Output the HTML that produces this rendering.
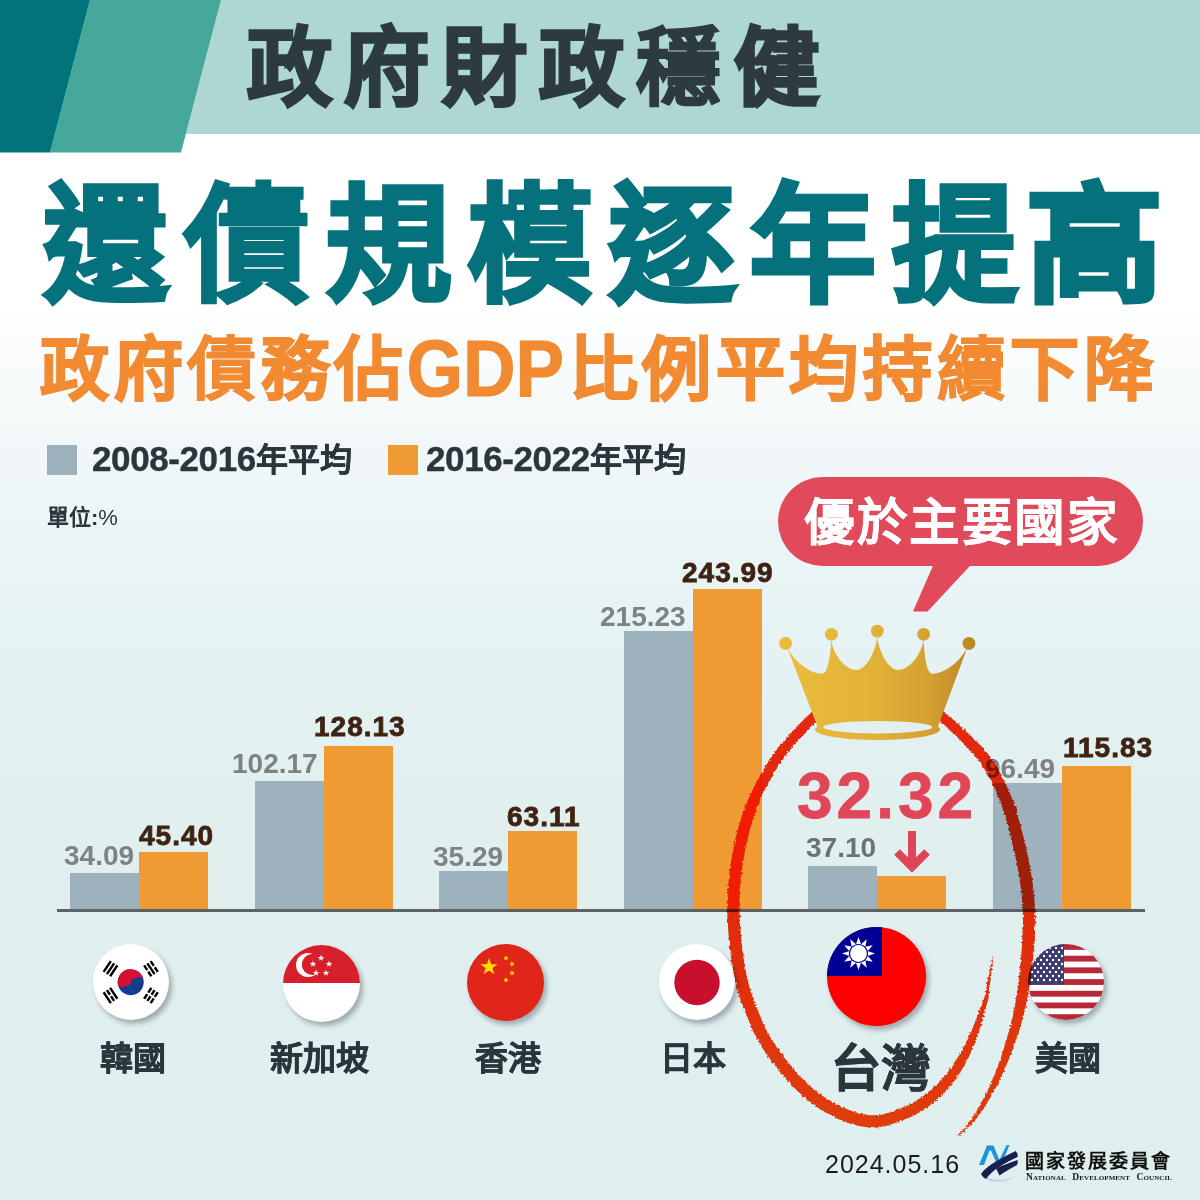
<!DOCTYPE html>
<html lang="zh-TW">
<head>
<meta charset="utf-8">
<title>政府財政穩健</title>
<style>
*{margin:0;padding:0;box-sizing:border-box}
html,body{width:1200px;height:1200px;overflow:hidden}
body{position:relative;font-family:"Liberation Sans",sans-serif;
background:linear-gradient(180deg,#ffffff 0px,#ffffff 300px,#f1f7f8 450px,#e7f3f4 600px,#e1efef 800px,#dfeeee 1200px);}
.abs{position:absolute;white-space:nowrap;line-height:1}
#t1{left:247px;top:26px;font-size:85px;font-weight:700;color:#2d3a41;letter-spacing:12.3px;-webkit-text-stroke:3px #2d3a41;transform-origin:0 0}
#t2{left:43px;top:183px;font-size:128px;font-weight:700;color:#05717c;letter-spacing:16.3px;-webkit-text-stroke:4.6px #05717c;transform:scaleX(.98);transform-origin:0 0}
#t3{left:40px;top:336px;font-size:69px;font-weight:700;color:#f28a32;letter-spacing:4.6px;-webkit-text-stroke:1.8px #f28a32}
#t3 .gdp{display:inline-block;font-size:75px;line-height:0;letter-spacing:0;transform:scale(.97,1.07);transform-origin:50% 0;margin:0 2px 0 -4px;-webkit-text-stroke:1px #f28a32}
.leg{top:441px;font-size:35px;font-weight:700;color:#2b363c;-webkit-text-stroke:.4px #2b363c;letter-spacing:-.4px}
.leg span{font-size:32px;letter-spacing:0}
.sq{position:absolute;width:30px;height:30px;top:445px}
#unit{left:47px;top:507px;font-size:22px;font-weight:700;color:#2b363c}
.bar{position:absolute;width:69px}
.g{background:#9eb2be}
.o{background:#f09a33}
.lg{font-size:28px;color:#7c8285;font-weight:700}
.lo{font-size:28px;color:#3e2313;font-weight:700;-webkit-text-stroke:.8px #3e2313;letter-spacing:1px}
.cn{font-size:33px;font-weight:700;color:#2b363c;top:1042px;-webkit-text-stroke:.5px #2b363c}
.flag{position:absolute;border-radius:50%;overflow:hidden;box-shadow:3px 4px 5px rgba(40,50,60,.35)}
</style>
</head>
<body>
<!-- header band -->
<svg class="abs" style="left:0;top:0" width="1200" height="160" viewBox="0 0 1200 160">
  <polygon points="221,0 1200,0 1200,134 186,134" fill="#aed6d3"/>
  <polygon points="90,0 221,0 181,152.5 50,152.5" fill="#46a89a"/>
  <polygon points="0,0 90,0 50,152.5 0,152.5" fill="#00737b"/>
</svg>
<div class="abs" id="t1">政府財政<span style="-webkit-text-stroke-width:1.6px">穩</span>健</div>
<div class="abs" id="t2"><span style="-webkit-text-stroke-width:3.4px">還</span><span style="-webkit-text-stroke-width:2.6px">債</span><span style="-webkit-text-stroke-width:3.6px">規</span><span style="-webkit-text-stroke-width:3.4px">模</span>逐年<span style="letter-spacing:9.5px;-webkit-text-stroke-width:3.6px">提</span><span style="display:inline-block;transform:scaleX(1.09);transform-origin:0 0">高</span></div>
<div class="abs" id="t3">政府<span style="-webkit-text-stroke-width:.6px">債</span>務佔<span class="gdp">GDP</span>比例平均持<span style="-webkit-text-stroke-width:.6px">續</span>下降</div>

<!-- legend -->
<div class="sq" style="left:47px;background:#9eb2be"></div>
<div class="abs leg" style="left:92px">2008-2016<span>年平均</span></div>
<div class="sq" style="left:388px;background:#f09a33"></div>
<div class="abs leg" style="left:426px">2016-2022<span>年平均</span></div>
<div class="abs" id="unit">單位:<span style="font-weight:400">%</span></div>

<!-- bubble -->
<svg class="abs" style="left:0;top:0" width="1200" height="1200" viewBox="0 0 1200 1200">
  <rect x="778" y="477" width="365" height="89" rx="44.5" fill="#e04a5b"/>
  <polygon points="935.5,560 975.5,560 927.5,611.5 913,611.5" fill="#e04a5b"/>
</svg>
<div class="abs" id="bub" style="left:804px;top:498px;font-size:50.5px;font-weight:700;color:#fff;letter-spacing:2.5px;-webkit-text-stroke:.4px #fff">優於主要國家</div>

<!-- bars -->
<div class="bar g" style="left:70px;top:873px;height:37px"></div>
<div class="bar o" style="left:139px;top:852px;height:58px"></div>
<div class="bar g" style="left:255px;top:781px;height:129px"></div>
<div class="bar o" style="left:324px;top:746px;height:164px"></div>
<div class="bar g" style="left:439px;top:871px;height:39px"></div>
<div class="bar o" style="left:508px;top:831px;height:79px"></div>
<div class="bar g" style="left:624px;top:631px;height:279px"></div>
<div class="bar o" style="left:693px;top:589px;height:321px"></div>
<div class="bar g" style="left:808px;top:866px;height:44px"></div>
<div class="bar o" style="left:877px;top:876px;height:34px"></div>
<div class="bar g" style="left:993px;top:783px;height:127px"></div>
<div class="bar o" style="left:1062px;top:766px;height:144px"></div>
<div class="abs" style="left:57px;top:909px;width:1088px;height:3px;background:#5b6367"></div>

<!-- labels -->
<div class="abs lg" style="left:64px;top:842px">34.09</div>
<div class="abs lo" style="left:139px;top:822px">45.40</div>
<div class="abs lg" style="left:232px;top:750px">102.17</div>
<div class="abs lo" style="left:314px;top:713px">128.13</div>
<div class="abs lg" style="left:433px;top:843px">35.29</div>
<div class="abs lo" style="left:507px;top:803px">63.11</div>
<div class="abs lg" style="left:600px;top:603px">215.23</div>
<div class="abs lo" style="left:682px;top:559px">243.99</div>
<div class="abs lg" style="left:806px;top:834px;color:#6c7274">37.10</div>
<div class="abs lg" style="left:985px;top:755px">96.49</div>
<div class="abs lo" style="left:1063px;top:734px">115.83</div>
<div class="abs" id="big" style="left:797px;top:764px;font-size:64px;font-weight:700;color:#e14658;letter-spacing:4px;-webkit-text-stroke:.8px #e14658">32.32</div>

<!-- arrow -->
<svg class="abs" style="left:0;top:0" width="1200" height="1200" viewBox="0 0 1200 1200">
  <rect x="908" y="831" width="8" height="30" fill="#e04456"/>
  <polyline points="897,852 912,867 927,852" fill="none" stroke="#e04456" stroke-width="8" stroke-linecap="butt" stroke-linejoin="miter"/>
</svg>

<!-- flags -->
<div class="flag" style="left:93px;top:944px;width:76px;height:76px;background:#fff">
  <svg width="76" height="76" viewBox="0 0 76 76">
    <g transform="translate(37.7,38.2) rotate(-14)">
      <circle r="13" fill="#0f3e8f"/>
      <path d="M-13,0 A13,13 0 0 1 13,0 A6.5,3 0 0 0 0,0 A6.5,3 0 0 1 -13,0Z" fill="#d70f35"/>
    </g>
    <g fill="#000">
      <g transform="translate(17.5,24.7) rotate(-56.3)"><rect x="-6.5" y="-5.1" width="13" height="2.4"/><rect x="-6.5" y="-1.2" width="13" height="2.4"/><rect x="-6.5" y="2.7" width="13" height="2.4"/></g>
      <g transform="translate(58,24.7) rotate(56.3)"><rect x="-6.5" y="-5.1" width="5.6" height="2.4"/><rect x="0.9" y="-5.1" width="5.6" height="2.4"/><rect x="-6.5" y="-1.2" width="13" height="2.4"/><rect x="-6.5" y="2.7" width="5.6" height="2.4"/><rect x="0.9" y="2.7" width="5.6" height="2.4"/></g>
      <g transform="translate(17.5,51.5) rotate(56.3)"><rect x="-6.5" y="-5.1" width="13" height="2.4"/><rect x="-6.5" y="-1.2" width="5.6" height="2.4"/><rect x="0.9" y="-1.2" width="5.6" height="2.4"/><rect x="-6.5" y="2.7" width="13" height="2.4"/></g>
      <g transform="translate(58,51.5) rotate(-56.3)"><rect x="-6.5" y="-5.1" width="5.6" height="2.4"/><rect x="0.9" y="-5.1" width="5.6" height="2.4"/><rect x="-6.5" y="-1.2" width="5.6" height="2.4"/><rect x="0.9" y="-1.2" width="5.6" height="2.4"/><rect x="-6.5" y="2.7" width="5.6" height="2.4"/><rect x="0.9" y="2.7" width="5.6" height="2.4"/></g>
    </g>
  </svg>
</div>
<div class="flag" style="left:283px;top:945px;width:77px;height:77px;background:#fff">
  <svg width="77" height="77" viewBox="0 0 77 77">
    <rect width="77" height="38" fill="#d71f2c"/>
    <circle cx="25" cy="20" r="12" fill="#fff"/>
    <circle cx="29.5" cy="19.5" r="10.6" fill="#d71f2c"/>
    <g fill="#fff">
      <polygon id="sst" points="0,-2.6 0.6,-0.8 2.5,-0.8 1,0.3 1.5,2.1 0,1 -1.5,2.1 -1,0.3 -2.5,-0.8 -0.6,-0.8" transform="translate(38,13) scale(1.35)"/>
      <use href="#sst" x="8" y="6"/>
      <use href="#sst" x="5" y="15"/>
      <use href="#sst" x="-5" y="15"/>
      <use href="#sst" x="-8" y="6"/>
    </g>
  </svg>
</div>
<div class="flag" style="left:467px;top:944px;width:77px;height:77px;background:#e0261a">
  <svg width="77" height="77" viewBox="0 0 77 77">
    <g fill="#ffde00">
      <polygon points="0,-9 2.1,-2.8 8.6,-2.8 3.4,1.1 5.3,7.3 0,3.5 -5.3,7.3 -3.4,1.1 -8.6,-2.8 -2.1,-2.8" transform="translate(22,23)"/>
      <polygon id="hks" points="0,-3 0.7,-0.9 2.9,-0.9 1.1,0.4 1.8,2.4 0,1.2 -1.8,2.4 -1.1,0.4 -2.9,-0.9 -0.7,-0.9" transform="translate(39,14) rotate(20)"/>
      <polygon points="0,-3 0.7,-0.9 2.9,-0.9 1.1,0.4 1.8,2.4 0,1.2 -1.8,2.4 -1.1,0.4 -2.9,-0.9 -0.7,-0.9" transform="translate(45,20) rotate(45)"/>
      <polygon points="0,-3 0.7,-0.9 2.9,-0.9 1.1,0.4 1.8,2.4 0,1.2 -1.8,2.4 -1.1,0.4 -2.9,-0.9 -0.7,-0.9" transform="translate(45,29) rotate(0)"/>
      <polygon points="0,-3 0.7,-0.9 2.9,-0.9 1.1,0.4 1.8,2.4 0,1.2 -1.8,2.4 -1.1,0.4 -2.9,-0.9 -0.7,-0.9" transform="translate(39,36) rotate(20)"/>
    </g>
  </svg>
</div>
<div class="flag" style="left:659px;top:944px;width:76px;height:76px;background:#fff">
  <svg width="76" height="76" viewBox="0 0 76 76"><circle cx="38" cy="38.5" r="22.7" fill="#c8102e"/></svg>
</div>
<div class="flag" style="left:827px;top:927px;width:99px;height:99px;background:#fe0000">
  <svg width="99" height="99" viewBox="0 0 99 99">
    <rect width="55" height="49" fill="#000095"/>
    <g transform="translate(31.5,26.5)" fill="#fff">
      <g id="rays">
        <polygon points="0,-16.5 2.6,-9 -2.6,-9"/>
        <polygon points="0,-16.5 2.6,-9 -2.6,-9" transform="rotate(30)"/>
        <polygon points="0,-16.5 2.6,-9 -2.6,-9" transform="rotate(60)"/>
        <polygon points="0,-16.5 2.6,-9 -2.6,-9" transform="rotate(90)"/>
        <polygon points="0,-16.5 2.6,-9 -2.6,-9" transform="rotate(120)"/>
        <polygon points="0,-16.5 2.6,-9 -2.6,-9" transform="rotate(150)"/>
      </g>
      <use href="#rays" transform="rotate(180)"/>
      <circle r="9.6" fill="#000095"/>
      <circle r="8.4" fill="#fff"/>
    </g>
  </svg>
</div>
<div class="flag" style="left:1028px;top:944px;width:76px;height:76px;background:#fff">
  <svg width="76" height="76" viewBox="0 0 76 76">
    <g fill="#b8283a"><rect y="0.00" width="76" height="5.85"/><rect y="11.70" width="76" height="5.85"/><rect y="23.40" width="76" height="5.85"/><rect y="35.10" width="76" height="5.85"/><rect y="46.80" width="76" height="5.85"/><rect y="58.50" width="76" height="5.85"/><rect y="70.20" width="76" height="5.85"/></g>
    <rect width="36" height="40.5" fill="#3c3b6e"/>
    <g fill="#fff">
      <g id="srow"><circle cx="4" cy="4" r="1.2"/><circle cx="10" cy="4" r="1.2"/><circle cx="16" cy="4" r="1.2"/><circle cx="22" cy="4" r="1.2"/><circle cx="28" cy="4" r="1.2"/><circle cx="34" cy="4" r="1.2"/></g>
      <g id="srow2"><circle cx="7" cy="8" r="1.2"/><circle cx="13" cy="8" r="1.2"/><circle cx="19" cy="8" r="1.2"/><circle cx="25" cy="8" r="1.2"/><circle cx="31" cy="8" r="1.2"/></g>
      <use href="#srow" y="8"/><use href="#srow2" y="8"/><use href="#srow" y="16"/><use href="#srow2" y="16"/><use href="#srow" y="24"/><use href="#srow2" y="24"/><use href="#srow" y="32"/>
    </g>
  </svg>
</div>

<!-- country names -->
<div class="abs cn" style="left:100px">韓國</div>
<div class="abs cn" style="left:270px">新加坡</div>
<div class="abs cn" style="left:475px">香港</div>
<div class="abs cn" style="left:660px">日本</div>
<div class="abs cn" style="left:1035px">美國</div>
<div class="abs" id="tw" style="left:831px;top:1044px;font-size:50px;font-weight:700;color:#2b363c;-webkit-text-stroke:.9px #2b363c">台<span style="-webkit-text-stroke-width:.3px">灣</span></div>

<!-- red circle -->
<svg class="abs" style="left:0;top:0;mix-blend-mode:multiply" width="1200" height="1200" viewBox="0 0 1200 1200">
  <defs>
    <filter id="rough" x="-5%" y="-5%" width="110%" height="110%">
      <feTurbulence type="fractalNoise" baseFrequency="0.45" numOctaves="2" seed="3"/>
      <feDisplacementMap in="SourceGraphic" scale="3.6" xChannelSelector="R" yChannelSelector="G"/>
    </filter>
    <linearGradient id="redg" x1="0" y1="0" x2="0" y2="1">
      <stop offset="0" stop-color="#ff2a0e"/>
      <stop offset="0.6" stop-color="#ff300e"/>
      <stop offset="1" stop-color="#ff420f"/>
    </linearGradient>
  </defs>
  <path filter="url(#rough)" fill="url(#redg)" d="M992.3,957.4 L992.1,958.4 L991.8,959.6 L991.5,961.1 L991.2,962.9 L990.9,964.8 L990.5,966.9 L990.0,969.2 L989.5,971.9 L988.9,974.7 L988.4,977.6 L987.8,980.5 L987.3,983.1 L986.9,985.6 L986.4,988.0 L986.0,990.3 L985.6,992.5 L985.2,994.5 L984.8,996.3 L984.3,997.8 L983.8,999.1 L983.3,1000.2 L982.8,1001.4 L982.2,1002.7 L981.6,1004.2 L981.0,1005.9 L980.3,1007.6 L979.7,1009.4 L979.0,1011.3 L978.3,1013.2 L977.6,1015.1 L976.9,1016.9 L976.2,1018.8 L975.4,1020.8 L974.7,1022.7 L973.9,1024.7 L973.1,1026.8 L972.2,1028.9 L971.4,1031.0 L970.5,1033.1 L969.6,1035.2 L968.5,1037.6 L967.2,1040.2 L965.6,1043.2 L963.9,1046.5 L962.0,1050.0 L960.1,1053.5 L958.0,1057.0 L955.8,1060.5 L953.6,1063.9 L951.3,1067.3 L949.0,1070.6 L946.5,1073.9 L943.9,1077.1 L941.0,1080.3 L937.7,1083.6 L934.2,1087.0 L930.4,1090.3 L926.5,1093.5 L922.6,1096.5 L918.7,1099.1 L914.9,1101.4 L911.0,1103.6 L907.0,1105.5 L902.9,1107.3 L898.9,1108.9 L894.9,1110.4 L891.1,1111.7 L887.4,1112.9 L884.0,1113.9 L880.6,1114.7 L877.3,1115.2 L873.9,1115.3 L870.4,1115.2 L866.7,1114.8 L862.9,1114.2 L859.0,1113.2 L855.0,1112.1 L850.9,1110.7 L846.7,1109.1 L842.4,1107.2 L838.0,1105.1 L833.6,1102.8 L829.4,1100.3 L825.3,1097.8 L821.6,1095.3 L818.0,1092.6 L814.5,1089.8 L811.1,1086.9 L807.7,1083.8 L804.3,1080.6 L801.0,1077.2 L797.6,1073.6 L794.4,1069.9 L791.1,1066.1 L788.0,1062.2 L784.9,1058.2 L781.9,1054.3 L778.9,1050.3 L776.1,1046.3 L773.3,1042.2 L770.8,1038.1 L768.4,1034.0 L766.2,1029.8 L764.1,1025.5 L762.1,1021.1 L760.3,1016.6 L758.5,1012.1 L756.7,1007.7 L755.1,1003.6 L753.6,999.6 L752.2,995.7 L750.8,991.8 L749.6,987.7 L748.5,983.5 L747.4,978.9 L746.4,974.2 L745.5,969.2 L744.6,964.2 L743.8,959.1 L743.1,954.1 L742.4,949.2 L741.8,944.1 L741.3,939.1 L740.9,934.1 L740.5,929.2 L740.1,924.6 L739.9,920.2 L739.7,916.1 L739.6,912.1 L739.6,908.1 L739.6,904.2 L739.7,900.2 L739.8,896.1 L739.9,892.1 L740.2,888.1 L740.5,884.0 L740.8,879.9 L741.3,875.7 L741.8,871.4 L742.4,866.9 L743.0,862.5 L743.7,858.0 L744.4,853.5 L745.3,849.2 L746.2,844.8 L747.1,840.4 L748.2,836.0 L749.3,831.7 L750.4,827.6 L751.5,823.6 L752.6,819.9 L753.7,816.4 L754.9,813.0 L756.1,809.7 L757.3,806.4 L758.7,803.2 L760.0,800.0 L761.4,797.0 L762.8,794.0 L764.4,790.9 L766.0,787.8 L767.8,784.4 L769.7,780.8 L771.8,777.0 L774.0,773.1 L776.2,769.3 L778.5,765.5 L780.8,762.0 L783.1,758.7 L785.4,755.6 L787.8,752.5 L790.3,749.5 L793.0,746.3 L795.9,742.9 L799.1,739.3 L802.6,735.4 L806.2,731.4 L809.9,727.6 L813.5,724.0 L816.8,720.9 L820.0,718.2 L823.0,715.7 L825.9,713.5 L828.9,711.6 L831.9,709.8 L835.0,708.1 L838.3,706.6 L841.7,705.3 L845.2,704.1 L848.7,703.1 L852.3,702.2 L855.9,701.5 L859.4,700.8 L862.9,700.3 L866.3,700.0 L869.8,699.7 L873.4,699.6 L877.0,699.5 L880.7,699.6 L884.3,699.7 L888.0,699.9 L891.6,700.3 L895.3,700.8 L899.1,701.5 L903.0,702.4 L907.2,703.4 L911.4,704.7 L915.5,706.1 L919.5,707.6 L923.1,709.1 L926.2,710.8 L929.1,712.5 L931.8,714.4 L934.5,716.4 L937.3,718.7 L940.4,721.3 L943.7,724.2 L947.2,727.4 L950.9,730.9 L954.5,734.5 L958.0,738.0 L961.3,741.3 L964.3,744.3 L967.1,747.2 L969.7,750.0 L972.2,752.7 L974.5,755.4 L976.7,758.0 L978.7,760.5 L980.5,763.0 L982.2,765.4 L983.8,767.9 L985.4,770.4 L986.9,773.0 L988.5,775.7 L989.9,778.4 L991.3,781.3 L992.7,784.2 L994.1,787.3 L995.5,790.5 L996.9,793.7 L998.3,797.0 L999.7,800.4 L1001.1,803.9 L1002.3,807.4 L1003.6,810.9 L1004.7,814.6 L1005.8,818.4 L1006.9,822.3 L1007.9,826.4 L1009.0,830.4 L1010.0,834.5 L1011.1,838.6 L1012.1,842.7 L1013.1,846.8 L1014.1,851.0 L1015.1,855.1 L1016.0,859.3 L1016.8,863.4 L1017.6,867.7 L1018.4,871.9 L1019.1,876.1 L1019.8,880.4 L1020.4,884.8 L1020.9,889.3 L1021.5,893.9 L1021.9,898.6 L1022.3,903.2 L1022.6,907.8 L1022.8,912.2 L1022.9,916.5 L1023.0,920.8 L1022.9,925.0 L1022.7,929.2 L1022.6,933.4 L1022.3,937.7 L1022.1,942.0 L1021.9,946.3 L1021.6,950.6 L1021.3,954.9 L1020.9,959.1 L1020.5,963.2 L1020.1,967.2 L1019.7,971.0 L1019.3,974.8 L1018.8,978.6 L1018.3,982.3 L1017.8,986.1 L1017.3,990.0 L1016.8,993.8 L1016.2,997.6 L1015.7,1001.4 L1015.0,1005.1 L1014.3,1008.9 L1013.5,1012.6 L1012.7,1016.3 L1011.9,1020.1 L1010.9,1023.9 L1009.9,1027.7 L1008.8,1031.6 L1007.7,1035.7 L1006.6,1039.8 L1005.3,1043.9 L1004.0,1048.1 L1002.7,1052.3 L1001.2,1056.6 L999.7,1060.8 L998.1,1065.2 L996.5,1069.5 L994.8,1073.9 L993.0,1078.3 L991.1,1082.6 L989.1,1087.1 L986.9,1091.7 L984.7,1096.3 L982.4,1100.8 L980.2,1105.0 L978.1,1108.8 L976.1,1112.1 L974.2,1115.1 L972.3,1117.9 L970.5,1120.4 L968.7,1122.8 L966.9,1125.1 L965.2,1127.3 L963.4,1129.4 L961.6,1131.3 L959.9,1133.0 L958.6,1134.5 L957.6,1135.6 L958.4,1136.4 L959.5,1135.5 L961.1,1134.2 L962.9,1132.7 L964.9,1130.9 L967.0,1129.0 L969.1,1126.9 L971.0,1124.8 L973.1,1122.5 L975.2,1120.1 L977.4,1117.4 L979.6,1114.5 L981.9,1111.2 L984.3,1107.5 L986.9,1103.3 L989.5,1098.9 L992.1,1094.4 L994.6,1089.8 L996.9,1085.4 L999.1,1081.1 L1001.2,1076.7 L1003.2,1072.3 L1005.1,1068.0 L1007.0,1063.7 L1008.8,1059.4 L1010.5,1055.2 L1012.1,1050.9 L1013.7,1046.7 L1015.2,1042.5 L1016.6,1038.4 L1018.0,1034.4 L1019.2,1030.4 L1020.4,1026.5 L1021.6,1022.7 L1022.7,1018.8 L1023.7,1015.0 L1024.7,1011.1 L1025.6,1007.2 L1026.4,1003.3 L1027.1,999.4 L1027.8,995.6 L1028.5,991.7 L1029.2,987.9 L1029.8,984.0 L1030.4,980.2 L1031.0,976.3 L1031.5,972.4 L1032.0,968.5 L1032.5,964.4 L1032.9,960.2 L1033.3,955.9 L1033.7,951.6 L1034.1,947.1 L1034.4,942.7 L1034.7,938.3 L1034.9,934.0 L1035.0,929.7 L1035.2,925.3 L1035.3,920.9 L1035.3,916.4 L1035.2,911.8 L1034.9,907.1 L1034.6,902.3 L1034.2,897.4 L1033.7,892.6 L1033.2,887.9 L1032.6,883.2 L1032.0,878.6 L1031.3,874.2 L1030.5,869.7 L1029.7,865.4 L1028.9,861.1 L1028.0,856.7 L1027.1,852.4 L1026.1,848.2 L1025.1,843.9 L1024.1,839.7 L1023.0,835.6 L1022.0,831.5 L1020.9,827.4 L1019.9,823.3 L1018.8,819.2 L1017.7,815.1 L1016.5,811.0 L1015.2,807.1 L1013.9,803.2 L1012.5,799.5 L1011.0,795.8 L1009.5,792.3 L1008.0,788.9 L1006.5,785.5 L1005.0,782.3 L1003.5,779.1 L1002.0,776.0 L1000.4,773.0 L998.8,770.0 L997.1,767.0 L995.3,764.2 L993.5,761.5 L991.6,758.8 L989.7,756.2 L987.6,753.5 L985.3,750.8 L982.9,748.0 L980.3,745.3 L977.6,742.5 L974.8,739.6 L971.8,736.7 L968.7,733.7 L965.4,730.5 L961.7,727.1 L957.9,723.5 L954.0,720.0 L950.2,716.7 L946.6,713.7 L943.3,711.1 L940.2,708.8 L937.2,706.6 L934.0,704.6 L930.6,702.7 L926.9,700.9 L922.9,699.1 L918.6,697.5 L914.1,696.0 L909.6,694.7 L905.2,693.5 L900.9,692.5 L896.8,691.8 L892.7,691.2 L888.7,690.8 L884.7,690.6 L880.8,690.5 L877.0,690.5 L873.2,690.5 L869.3,690.6 L865.5,690.9 L861.7,691.3 L857.9,691.8 L854.1,692.5 L850.3,693.4 L846.4,694.3 L842.5,695.5 L838.6,696.7 L834.8,698.2 L831.0,699.9 L827.4,701.7 L824.0,703.6 L820.6,705.7 L817.3,708.1 L813.9,710.6 L810.4,713.5 L806.7,716.8 L802.8,720.5 L798.9,724.5 L795.1,728.5 L791.5,732.4 L788.1,736.1 L785.1,739.5 L782.3,742.7 L779.6,745.9 L777.0,749.2 L774.5,752.5 L772.0,756.0 L769.5,759.8 L767.0,763.7 L764.6,767.7 L762.4,771.7 L760.2,775.6 L758.2,779.2 L756.3,782.6 L754.6,785.9 L752.9,789.0 L751.4,792.2 L749.8,795.5 L748.3,798.8 L746.9,802.2 L745.5,805.7 L744.2,809.2 L743.0,812.7 L741.7,816.5 L740.5,820.4 L739.3,824.5 L738.1,828.8 L736.9,833.2 L735.8,837.7 L734.7,842.3 L733.7,846.8 L732.8,851.4 L732.0,856.0 L731.2,860.7 L730.5,865.3 L729.9,869.8 L729.3,874.3 L728.8,878.7 L728.4,883.0 L728.0,887.2 L727.7,891.4 L727.5,895.6 L727.3,899.8 L727.3,904.0 L727.2,908.2 L727.3,912.3 L727.4,916.5 L727.6,920.9 L727.9,925.4 L728.2,930.2 L728.6,935.2 L729.1,940.3 L729.6,945.5 L730.2,950.7 L730.9,955.9 L731.6,961.0 L732.5,966.2 L733.3,971.4 L734.3,976.6 L735.4,981.6 L736.5,986.5 L737.8,991.1 L739.1,995.5 L740.5,999.7 L742.0,1003.8 L743.6,1008.0 L745.3,1012.3 L747.0,1016.7 L748.9,1021.3 L750.8,1025.9 L752.9,1030.7 L755.2,1035.4 L757.6,1040.0 L760.2,1044.5 L763.0,1048.9 L765.9,1053.2 L768.9,1057.5 L772.0,1061.7 L775.1,1065.8 L778.3,1069.8 L781.6,1073.9 L785.0,1078.0 L788.5,1081.9 L792.1,1085.7 L795.7,1089.4 L799.3,1092.8 L802.9,1096.2 L806.6,1099.3 L810.5,1102.4 L814.5,1105.4 L818.7,1108.2 L823.1,1110.9 L827.7,1113.5 L832.4,1116.1 L837.2,1118.4 L842.0,1120.5 L846.7,1122.3 L851.3,1123.8 L855.8,1125.1 L860.4,1126.2 L865.0,1127.0 L869.5,1127.5 L874.1,1127.7 L878.6,1127.4 L882.9,1126.7 L887.1,1125.7 L891.1,1124.5 L895.1,1123.1 L899.1,1121.6 L903.3,1120.1 L907.6,1118.3 L912.0,1116.3 L916.5,1114.1 L920.9,1111.6 L925.3,1108.9 L929.5,1105.8 L933.7,1102.4 L937.9,1098.8 L941.8,1095.1 L945.6,1091.4 L949.0,1087.7 L952.1,1084.0 L955.0,1080.2 L957.5,1076.5 L959.9,1072.8 L962.1,1069.2 L964.2,1065.5 L966.3,1061.8 L968.3,1058.0 L970.1,1054.1 L971.9,1050.4 L973.4,1047.0 L974.8,1043.8 L976.0,1040.9 L977.0,1038.2 L977.9,1035.8 L978.6,1033.6 L979.3,1031.4 L979.9,1029.2 L980.6,1027.0 L981.2,1024.9 L981.8,1022.9 L982.4,1020.9 L982.9,1018.9 L983.4,1016.9 L984.0,1015.0 L984.5,1013.0 L985.0,1011.1 L985.5,1009.2 L986.0,1007.5 L986.4,1005.8 L986.8,1004.3 L987.2,1003.0 L987.6,1001.8 L987.9,1000.4 L988.3,998.9 L988.6,997.1 L988.9,995.1 L989.2,993.0 L989.4,990.7 L989.6,988.4 L989.8,986.0 L990.1,983.5 L990.4,980.9 L990.8,978.0 L991.1,975.1 L991.5,972.2 L991.9,969.5 L992.1,967.1 L992.4,965.0 L992.6,963.1 L992.8,961.3 L992.9,959.8 L993.0,958.5 L993.1,957.6Z"/>
</svg>
<!-- crown -->
<svg class="abs" style="left:0;top:0" width="1200" height="1200" viewBox="0 0 1200 1200">
  <defs>
    <linearGradient id="gold" gradientUnits="userSpaceOnUse" x1="780" x2="975" y1="0" y2="0">
      <stop offset="0" stop-color="#ebbd3c"/>
      <stop offset="0.45" stop-color="#e2b338"/>
      <stop offset="0.75" stop-color="#d6a232"/>
      <stop offset="1" stop-color="#bb8526"/>
    </linearGradient>
  </defs>
  <g fill="url(#gold)">
    <path d="M787.4,648 C795,662 810,673.7 822.3,673.7 C828,673.7 830.5,655 831.4,640 C833,655 846,670 856.2,670 C866,670 875.5,652 877.3,637 C879,652 888.5,670 898.3,670 C908.5,670 921.5,655 923.6,640 C924.5,655 926.5,673.7 932.3,673.7 C944.5,673.7 959.5,662 967.2,648 L937.8,727 L817.7,727Z"/>
    <circle cx="785.6" cy="643.4" r="6.4"/>
    <circle cx="831.4" cy="634.3" r="6.4"/>
    <circle cx="877.3" cy="631.1" r="6.4"/>
    <circle cx="923.6" cy="634.3" r="6.4"/>
    <circle cx="968.9" cy="643.4" r="6.4"/>
    <ellipse cx="877.5" cy="729.5" rx="62.5" ry="10.5"/>
  </g>
  <ellipse cx="877.7" cy="727.2" rx="54.5" ry="6.2" fill="#e3f0f1"/>
</svg>

<!-- footer -->
<div class="abs" id="date" style="left:825px;top:1152px;font-size:25px;color:#1b1b1b;letter-spacing:1px">2024.05.16</div>
<svg class="abs" style="left:977px;top:1143px" width="42" height="42" viewBox="0 0 42 42">
  <path d="M5,32 C8,40 30,42 37,33 C33,38 12,39 7,31Z" fill="#c6d0ea"/>
  <path d="M2,22 L10,2.5 L16.5,2.5 L22.5,17 L29.5,2 L32.5,2 L24.5,21.5 L20,21.5 L14,7.5 L12.5,7.5 L7,22Z" fill="#2196d6"/>
  <path d="M4,31 C10,22 24,15.5 38.5,8 C40.5,10 41,12 40.5,14 C28,20 16,26 9,36 C7,35 5,33 4,31Z" fill="#17204f"/>
  <path d="M19,25 C27,22 34,19 40.5,17 C41,19 40.5,21 40,22 C33,26 27,29 22.5,32.5 C21,30 20,27.5 19,25Z" fill="#17204f"/>
</svg>
<div class="abs" id="ndc" style="left:1025px;top:1152px;font-family:'Liberation Serif',serif;font-size:19px;font-weight:700;color:#111;letter-spacing:2px">國家發展委員會</div>
<div class="abs" id="ndce" style="left:1026px;top:1173px;font-family:'Liberation Serif',serif;font-size:9.5px;font-weight:700;font-variant:small-caps;color:#1a1a1a;letter-spacing:.1px;word-spacing:4px">National Development Council</div>
</body>
</html>
